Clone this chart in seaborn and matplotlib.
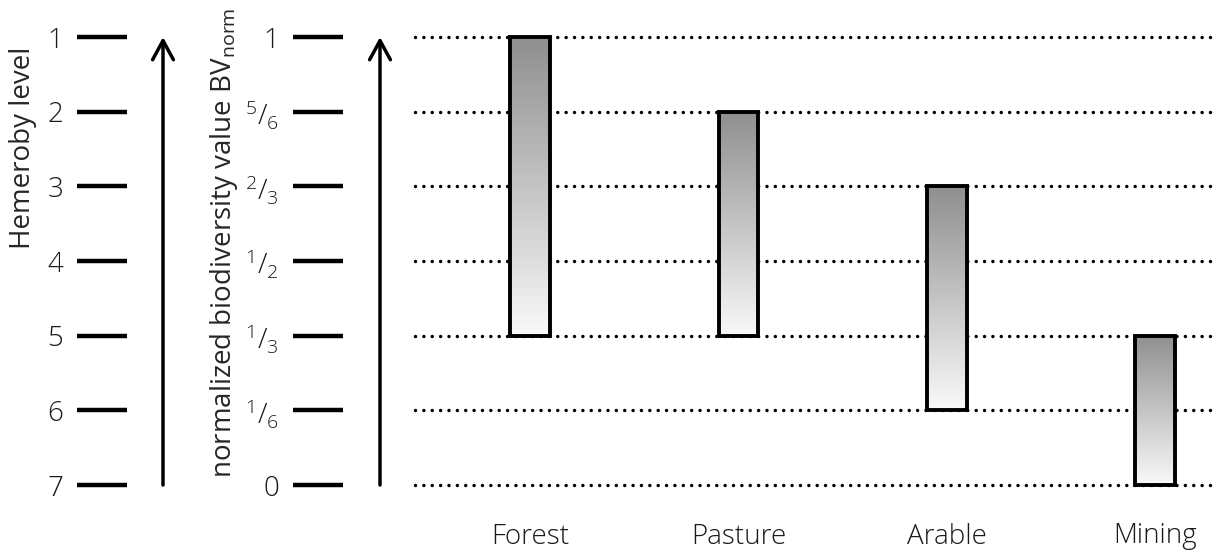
import numpy as np
import matplotlib
matplotlib.use('Agg')
import matplotlib.pyplot as plt
import matplotlib.transforms as mtransforms
from matplotlib.colors import LinearSegmentedColormap
import seaborn as sns

# Data
land_use = ['Forest', 'Pasture', 'Arable', 'Mining']
bv_top = [1, 5/6, 2/3, 1/3]
bv_bottom = [1/3, 1/3, 1/6, 0]

hemeroby_levels = [1, 2, 3, 4, 5, 6, 7]
bv_ticks = [1, 5/6, 2/3, 1/2, 1/3, 1/6, 0]
bv_tick_labels = ['1', r'$\mathregular{^5/_6}$', r'$\mathregular{^2/_3}$', r'$\mathregular{^1/_2}$',
                  r'$\mathregular{^1/_3}$', r'$\mathregular{^1/_6}$', '0']

sns.set_theme(style='white')
plt.rcParams['font.family'] = ['Open Sans', 'DejaVu Sans']
plt.rcParams['font.weight'] = 'light'
plt.rcParams['text.color'] = '#1a1a1a'
plt.rcParams['xtick.color'] = '#1a1a1a'
plt.rcParams['ytick.color'] = 'black'
plt.rcParams['ytick.labelcolor'] = '#1a1a1a'

W, H = 1213, 556
fig = plt.figure(figsize=(W / 100, H / 100), dpi=100)
y0, hgt = 71 / H, 448 / H

# Main chart
ax = fig.add_axes([415 / W, y0, 795 / W, hgt])
heights = [t - b for t, b in zip(bv_top, bv_bottom)]
sns.barplot(x=land_use, y=heights, bottom=bv_bottom, width=0.19, color='white',
            saturation=1, ax=ax)
for y in bv_ticks:
    ax.axhline(y, color='black', lw=2.5, linestyle=(0, (0.01, 2.4)),
               dash_capstyle='round', clip_on=False, zorder=1)

cmap = LinearSegmentedColormap.from_list('bar_grad', ['#f9f9f9', '#8f8f8f'])
grad = np.linspace(0, 1, 256).reshape(-1, 1)
for p in ax.patches:
    p.set_facecolor('none')
    p.set_edgecolor('black')
    p.set_linewidth(2.8)
    p.set_zorder(3)
    p.set_clip_on(False)
    bx, by = p.get_x(), p.get_y()
    im = ax.imshow(grad, cmap=cmap, origin='lower', aspect='auto', zorder=2.5,
                   extent=[bx, bx + p.get_width(), by, by + p.get_height()])
    im.set_clip_path(p)

ax.set_xlim(-0.553, 3.264)
ax.set_ylim(0, 1)
ax.set_yticks([])
ax.set_xlabel('')
ax.set_ylabel('')
ax.tick_params(axis='x', length=0, pad=27, labelsize=20)
for s in ax.spines.values():
    s.set_visible(False)

# Hemeroby scale
ax_h = fig.add_axes([127 / W, y0, 0.0005, hgt])
ax_h.set_ylim(7, 1)
ax_h.set_yticks(hemeroby_levels)
ax_h.set_xticks([])
ax_h.tick_params(axis='y', left=True, length=36, width=3.2, pad=10, labelsize=20)
ax_h.set_ylabel('Hemeroby level', fontsize=20)
ax_h.yaxis.set_label_coords(37 / W, 0.752, transform=mtransforms.blended_transform_factory(
    fig.transFigure, ax_h.transAxes))
for s in ax_h.spines.values():
    s.set_visible(False)

# Biodiversity value scale
ax_b = fig.add_axes([343 / W, y0, 0.0005, hgt])
ax_b.set_ylim(0, 1)
ax_b.set_yticks(bv_ticks)
ax_b.set_yticklabels(bv_tick_labels)
ax_b.set_xticks([])
ax_b.tick_params(axis='y', left=True, length=36, width=3.2, pad=10, labelsize=20)
ax_b.set_ylabel(r'normalized biodiversity value BV$\mathregular{_{norm}}$', fontsize=20)
ax_b.yaxis.set_label_coords(240 / W, 0.54, transform=mtransforms.blended_transform_factory(
    fig.transFigure, ax_b.transAxes))
for s in ax_b.spines.values():
    s.set_visible(False)

# Arrows
arrow = dict(arrowstyle='->,head_length=0.55,head_width=0.3', lw=2.5,
             color='black', mutation_scale=25, shrinkA=0, shrinkB=0)
tr_h = mtransforms.blended_transform_factory(fig.transFigure, ax_h.transData)
ax_h.annotate('', xy=(163 / W, 1), xytext=(163 / W, 7), xycoords=tr_h,
              textcoords=tr_h, arrowprops=arrow, annotation_clip=False)
tr_b = mtransforms.blended_transform_factory(fig.transFigure, ax_b.transData)
ax_b.annotate('', xy=(380 / W, 1), xytext=(380 / W, 0), xycoords=tr_b,
              textcoords=tr_b, arrowprops=arrow, annotation_clip=False)

fig.savefig('out.png', dpi=100)
